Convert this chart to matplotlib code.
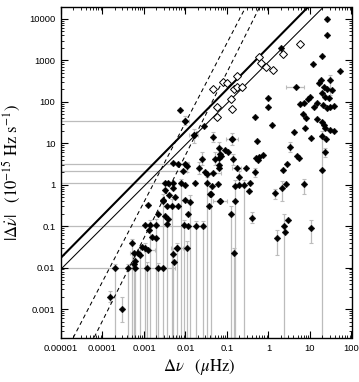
import numpy as np
import matplotlib
matplotlib.use('Agg')
import matplotlib.pyplot as plt
from matplotlib.ticker import FixedLocator, LogLocator, NullFormatter

# ---------------- data (Δν in μHz, |Δν̇| in 1e-15 Hz/s) ----------------
# filled points without error bars
a_dnu = [26, 2.0, 12, 19, 52, 18, 16.2, 21.4, 25.9, 34.2,
         19.6, 23.6, 28.3, 10.2, 8.8, 7.0, 5.9, 14.9, 20.7, 31.1,
         37.4, 25.9, 12.3, 1.19, 4.05, 6.6, 8.2, 7.7, 10.6, 14.9,
         19.6, 21.4, 22.7, 24.9, 31.1, 37.4, 4.9, 5.5, 2.8, 2.2,
         19.6, 2.7, 2.9, 2.55, 1.0, 1.0, 0.46, 0.53, 0.069, 0.091,
         0.106, 0.063, 0.073, 0.51, 0.60, 0.72, 0.56, 0.063, 0.063, 0.030,
         0.033, 0.29, 0.0098, 0.0165, 0.043, 0.061, 0.198, 0.35, 0.039, 0.069,
         0.16, 0.33, 0.0114, 0.036, 0.0075, 0.028, 0.0049, 0.0066, 0.0038, 0.0051,
         0.0032, 0.0049, 0.0056, 0.0029, 0.0098, 0.00128, 0.0036, 0.0066, 0.0022, 0.0032,
         0.00107, 0.00133, 0.00155, 0.0020, 0.00089, 0.00073, 0.00061, 0.0037, 0.0039, 0.0054]
a_dnudot = [4100, 1950, 810, 1280, 560, 337, 280, 224, 201, 193,
            161, 133, 122, 133, 115, 92, 89, 92, 84, 76,
            79, 70, 74, 27.6, 19, 52, 40, 23, 13.2, 38.5,
            33, 27.6, 23.8, 12.5, 20.6, 19.8, 5.0, 4.5, 3.1, 2.26,
            2.26, 1.02, 0.14, 0.072, 126, 74, 42, 11.4, 5.4, 6.9,
            6.3, 4.3, 5.0, 4.3, 4.7, 5.2, 4.0, 3.0, 2.5, 2.06,
            1.8, 2.5, 0.98, 1.08, 0.95, 1.02, 0.98, 1.08, 0.59, 0.40,
            0.40, 0.70, 0.20, 0.31, 65, 26, 3.3, 3.1, 1.08, 1.08,
            0.75, 0.82, 0.51, 0.43, 0.43, 0.32, 0.31, 0.31, 0.196, 0.176,
            0.107, 0.081, 0.056, 0.051, 0.032, 0.022, 0.0099, 0.15, 0.56, 0.014]

# filled points with bounded vertical error bars
b_dnu = [26, 31, 3.35, 2.1, 7.0, 1.44, 1.6, 10.6, 23.6, 0.047,
         0.13, 0.0156, 0.063, 0.025, 0.052, 0.14, 0.0108, 0.0206, 0.19, 0.48,
         0.40, 0.0095, 0.00015, 0.0003]
b_dnudot = [10000, 330, 8.3, 0.82, 1.02, 0.62, 0.051, 0.090, 6.1, 14.4,
            12.5, 15.8, 7.6, 4.2, 4.2, 4.2, 2.9, 2.6, 1.56, 2.06,
            0.16, 35, 0.002, 0.001]
b_lo = [8700, 150, 6.3, 0.4, 0.6, 0.45, 0.020, 0.04, 4.6, 11,
        9, 10, 5.5, 3, 3, 3, 2, 1.8, 1.0, 1.5,
        0.12, 28, 0.0015, 0.0005]
b_hi = [11000, 450, 10.5, 1.2, 1.4, 0.8, 0.081, 0.14, 7.6, 19,
        18, 22, 11, 6, 6, 5.5, 3.6, 3.5, 2.2, 2.6,
        0.22, 45, 0.0027, 0.0019]

# filled points whose lower vertical error reaches zero
c_dnu = [20, 2.3, 0.033, 0.16, 0.25, 0.013, 0.018, 0.026, 0.125, 0.144,
         0.042, 0.0079, 0.0029, 0.0047, 0.0014, 0.0019, 0.0036, 0.009, 0.00051, 0.00103,
         0.0062, 0.0051, 0.00061, 0.00056, 0.0002, 0.00042, 0.00117, 0.0022, 0.00081, 0.0108]
c_dnudot = [15.2, 0.10, 1.08, 0.95, 0.98, 0.39, 0.10, 0.10, 0.20, 0.022,
            0.6, 1.08, 0.41, 0.31, 0.107, 0.107, 0.113, 0.107, 0.040, 0.029,
            0.030, 0.021, 0.0144, 0.0122, 0.0099, 0.0099, 0.0099, 0.0099, 0.020, 0.030]
c_hi = [20, 0.2, 1.5, 1.3, 1.3, 0.55, 0.13, 0.13, 0.3, 0.03,
        0.9, 1.4, 0.6, 0.45, 0.14, 0.15, 0.16, 0.14, 0.05, 0.04,
        0.04, 0.03, 0.02, 0.016, 0.012, 0.012, 0.014, 0.013, 0.03, 0.045]

# filled points whose lower horizontal error reaches zero
d_dnu = [0.0095, 0.0098, 0.0088, 0.0032, 0.0118, 0.0029]
d_dnudot = [35, 3.1, 2.2, 1.08, 0.10, 0.0099]
d_hi = [0.012, 0.012, 0.011, 0.0042, 0.03, 0.0055]

# filled points with bounded horizontal error bars
e_dnu = [4.6, 0.13, 0.0156, 0.045, 0.174, 0.066, 0.00128, 0.00059, 0.0062]
e_dnudot = [223, 12.5, 15.8, 1.95, 2.5, 0.41, 0.0265, 0.022, 0.030]
e_lo = [2.7, 0.095, 0.012, 0.03, 0.13, 0.045, 0.001, 0.00045, 0.0045]
e_hi = [7.1, 0.18, 0.02, 0.07, 0.22, 0.1, 0.0018, 0.0008, 0.0085]

# open diamonds
o_dnu = [0.047, 0.078, 0.098, 0.174, 0.127, 0.134, 0.144, 0.174, 0.23, 0.60,
         0.67, 0.89, 1.26, 2.24, 5.6, 0.058, 0.059]
o_dnudot = [201, 297, 285, 421, 119, 67, 201, 224, 224, 1230,
            880, 680, 590, 1410, 2450, 74, 43]

# reference lines: |Δν̇| = coef * Δν**power
thick_line = (2090, 1.016)
thin_line = (920, 1.0)
dash_lines = [(2.2e5, 1.92), (5.2e4, 2.0)]

xtick_vals = [1e-5, 1e-4, 1e-3, 1e-2, 1e-1, 1, 10, 100]
xtick_labels = ['0.00001', '0.0001', '0.001', '0.01', '0.1', '1', '10', '100']
ytick_vals = [1e-3, 1e-2, 1e-1, 1, 10, 100, 1000, 10000]
ytick_labels = ['0.001', '0.01', '0.1', '1', '10', '100', '1000', '10000']

# ---------------- plotting ----------------
plt.rcParams['mathtext.fontset'] = 'stix'
plt.rcParams['font.family'] = ['Liberation Sans', 'DejaVu Sans']

W, H = 359, 382
fig = plt.figure(figsize=(W / 100, H / 100), dpi=100)
L, R, T, B = 61, 351.5, 6.5, 338
ax = fig.add_axes([L / W, 1 - B / H, (R - L) / W, (B - T) / H])
ax.set_xscale('log')
ax.set_yscale('log')

ecol = '#bcbcbc'
ekw = dict(fmt='none', ecolor=ecol, elinewidth=0.9, capsize=1.7, capthick=0.8, zorder=1)

b_x, b_y = np.array(b_dnu), np.array(b_dnudot)
ax.errorbar(b_x, b_y, yerr=[b_y - np.array(b_lo), np.array(b_hi) - b_y], **ekw)
c_x, c_y = np.array(c_dnu), np.array(c_dnudot)
ax.errorbar(c_x, c_y, yerr=[c_y, np.array(c_hi) - c_y], **ekw)
d_x, d_y = np.array(d_dnu), np.array(d_dnudot)
ax.errorbar(d_x, d_y, xerr=[d_x, np.array(d_hi) - d_x], **ekw)
e_x, e_y = np.array(e_dnu), np.array(e_dnudot)
ax.errorbar(e_x, e_y, xerr=[e_x - np.array(e_lo), np.array(e_hi) - e_x], **ekw)

xx = np.logspace(-6, 3, 500)
ax.plot(xx, thick_line[0] * xx ** thick_line[1], color='black', lw=1.5, zorder=2)
ax.plot(xx, thin_line[0] * xx ** thin_line[1], color='black', lw=0.75, zorder=2)
for coef, pw in dash_lines:
    ax.plot(xx, coef * xx ** pw, color='black', lw=0.75, ls=(0, (4, 3)), zorder=2)

all_fx = np.concatenate([a_dnu, b_dnu, c_dnu, d_dnu, e_dnu])
all_fy = np.concatenate([a_dnudot, b_dnudot, c_dnudot, d_dnudot, e_dnudot])
ax.plot(all_fx, all_fy, ls='none', marker='D', ms=3.4, mfc='black', mec='black',
        mew=0.3, zorder=3)
ax.plot(o_dnu, o_dnudot, ls='none', marker='D', ms=4.2, mfc='white', mec='black',
        mew=0.7, zorder=4)

ax.set_xlim(1e-5, 100)
ax.set_ylim(2e-4, 2e4)

ax.xaxis.set_major_locator(FixedLocator(xtick_vals))
ax.set_xticklabels(xtick_labels)
ax.yaxis.set_major_locator(FixedLocator(ytick_vals))
ax.set_yticklabels(ytick_labels)
for axis in (ax.xaxis, ax.yaxis):
    axis.set_minor_locator(LogLocator(base=10, subs=np.arange(2, 10), numticks=20))
    axis.set_minor_formatter(NullFormatter())

ax.tick_params(which='both', direction='in', top=True, right=True, labelsize=6.8)
ax.tick_params(which='major', length=5, width=0.8, pad=4)
ax.tick_params(which='minor', length=2.5, width=0.6)
for sp in ax.spines.values():
    sp.set_linewidth(1.0)

ax.set_xlabel(r'$\Delta\nu\ \ \ (\mu\mathrm{Hz})$', fontsize=12)
ax.xaxis.set_label_coords(0.475, -0.058)
ax.set_ylabel(r'$|\Delta\dot{\nu}|\ \ \ (10^{-15}\ \mathrm{Hz\ s^{-1}})$', fontsize=12)
ax.yaxis.set_label_coords(-0.13, 0.5)

fig.savefig('out.png', dpi=100)
